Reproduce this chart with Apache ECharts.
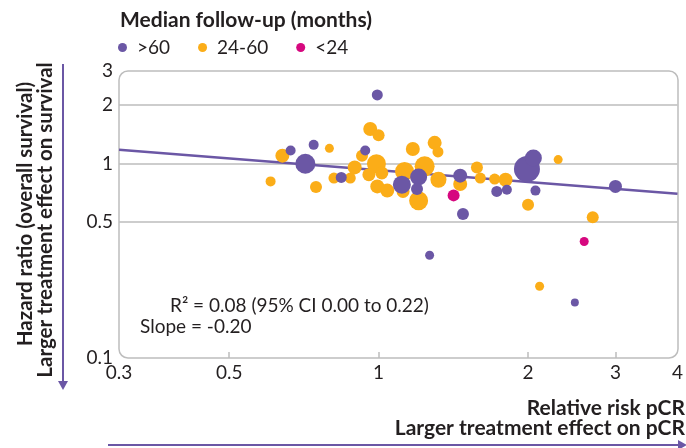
<!DOCTYPE html>
<html><head><meta charset="utf-8">
<script src="https://cdn.jsdelivr.net/npm/echarts@6/dist/echarts.min.js"></script>
<style>html,body{margin:0;padding:0;background:#fff}#c{width:686px;height:448px}</style>
</head><body><div id="c"></div>
<script>
// ---- data ----
// [relative risk pCR, hazard ratio OS, bubble weight]
const over60 = [
  [0.994,2.26,5.5],[0.665,1.17,5],[0.74,1.25,5],[0.712,1.00,10],[0.841,0.85,5.5],
  [0.94,1.17,5],[1.114,0.78,9],[1.204,0.854,8.5],[1.195,0.741,6],[1.46,0.868,7],
  [1.479,0.551,6],[1.73,0.72,5.5],[1.813,0.735,5],[1.99,0.939,13],[2.05,1.07,8.5],
  [2.07,0.727,5],[3.0,0.764,6.5],[1.267,0.338,4.5],[2.485,0.193,4]
];
const mid24to60 = [
  [0.962,1.51,7],[1.0,1.40,6],[0.64,1.10,7],[0.796,1.20,4.5],[0.606,0.811,5],
  [0.748,0.759,6],[0.813,0.844,5.5],[0.877,0.844,5.5],[0.926,1.10,6],[0.895,0.957,7],
  [0.99,1.00,9.5],[0.956,0.878,6.5],[1.015,0.896,6.5],[0.994,0.764,7],[1.041,0.727,7],
  [1.172,1.19,7],[1.297,1.28,7],[1.317,1.149,5.5],[1.128,0.913,9.5],[1.238,0.969,10],
  [1.204,0.645,9.5],[1.12,0.72,6.5],[1.32,0.827,8],[1.46,0.786,7],[1.578,0.957,6],
  [1.603,0.844,5.5],[1.713,0.834,5.5],[1.802,0.827,7],[2.0,0.615,6],[2.30,1.05,4.5],
  [2.70,0.53,6],[2.11,0.234,4.5]
];
const under24 = [[1.416,0.687,6],[2.595,0.398,4.5]];
const fitLine = [[0.3,1.18],[4,0.70]];
const seriesNames = ['>60','24-60','<24'];
const xTickLabels = [0.3,0.5,1,2,3,4];
const xTicks = [0.5,1,2,3];
const yTickLabels = [0.1,0.5,1,2,3];
const yGrid = [0.5,1,2];
const legendTitle = 'Median follow-up (months)';
const yTitle1 = 'Hazard ratio (overall survival)';
const yTitle2 = 'Larger treatment effect on survival';
const xTitle1 = 'Relative risk pCR';
const xTitle2 = 'Larger treatment effect on pCR';
const note1 = 'R\u00B2 = 0.08 (95% CI 0.00 to 0.22)';
const note2 = 'Slope = -0.20';

const PURPLE = '#6b57a5', ORANGE = '#fbad18', MAGENTA = '#d6087f', TXT = '#231f20', GRID = '#bdbdbd';
const FONT = 'Lato';
const BOLD = 'bold 20.5px ' + FONT;
const BOLDX = 'bold 21px ' + FONT;
const REG = 19;
const G = {left:119, top:71, right:8, bottom:90};
const fmt = v => String(+(+v).toPrecision(3));

const chart = echarts.init(document.getElementById('c'), null, {renderer:'canvas'});
chart.setOption({
  animation:false,
  textStyle:{fontFamily:FONT},
  title:{text:legendTitle,left:115,top:5,textStyle:{fontFamily:FONT,fontWeight:'bold',fontSize:21,color:TXT}},
  legend:{data:seriesNames,left:113,top:33,icon:'circle',itemWidth:9,itemHeight:9,itemGap:28,
    textStyle:{fontFamily:FONT,fontSize:REG,color:TXT,padding:[0,0,0,5]}},
  grid:{left:G.left,top:G.top,right:G.right,bottom:G.bottom},
  xAxis:{type:'log',logBase:10,min:0.3,max:4,
    axisLine:{show:false},
    axisTick:{show:true,inside:true,length:6,customValues:xTicks,lineStyle:{color:GRID,width:1.5}},
    axisLabel:{customValues:xTickLabels,formatter:fmt,fontFamily:FONT,fontSize:REG,color:TXT,margin:5},
    splitLine:{show:false}},
  yAxis:{type:'log',logBase:10,min:0.1,max:3,
    axisLine:{show:false},
    axisTick:{show:false,customValues:yGrid},
    axisLabel:{customValues:yTickLabels,formatter:fmt,fontFamily:FONT,fontSize:REG,color:TXT,margin:6},
    splitLine:{show:true,lineStyle:{color:GRID,width:1.5}}},
  graphic:[
    {type:'rect',z:-1,silent:true,shape:{x:119,y:71,width:559,height:287,r:9},style:{fill:'none',stroke:GRID,lineWidth:1.5}},
    {type:'text',x:25,y:214,rotation:Math.PI/2,style:{text:yTitle1,font:BOLD,fill:TXT,align:'center',verticalAlign:'middle'}},
    {type:'text',x:45,y:220,rotation:Math.PI/2,style:{text:yTitle2,font:BOLD,fill:TXT,align:'center',verticalAlign:'middle'}},
    {type:'line',shape:{x1:63,y1:64,x2:63,y2:383},style:{stroke:PURPLE,lineWidth:2}},
    {type:'polygon',shape:{points:[[58,381],[68,381],[63,390]]},style:{fill:PURPLE}},
    {type:'text',x:685,y:408,style:{text:xTitle1,font:BOLDX,fill:TXT,align:'right',verticalAlign:'middle'}},
    {type:'text',x:685,y:428,style:{text:xTitle2,font:BOLDX,fill:TXT,align:'right',verticalAlign:'middle'}},
    {type:'line',shape:{x1:108,y1:445,x2:680,y2:445},style:{stroke:PURPLE,lineWidth:2}},
    {type:'polygon',shape:{points:[[678,440],[678,450],[687,445]]},style:{fill:PURPLE}},
    {type:'text',x:170,y:306,style:{text:note1,font:REG+'px '+FONT,fill:TXT,align:'left',verticalAlign:'middle'}},
    {type:'text',x:140,y:327,style:{text:note2,font:REG+'px '+FONT,fill:TXT,align:'left',verticalAlign:'middle'}}
  ],
  series:[
    {type:'line',name:'fit',data:fitLine,symbol:'none',z:1,lineStyle:{color:PURPLE,width:2.5},silent:true},
    {type:'scatter',name:'24-60',data:mid24to60,z:2,symbolSize:d=>d[2]*2,itemStyle:{color:ORANGE,opacity:1}},
    {type:'scatter',name:'>60',data:over60,z:3,symbolSize:d=>d[2]*2,itemStyle:{color:PURPLE,opacity:1}},
    {type:'scatter',name:'<24',data:under24,z:4,symbolSize:d=>d[2]*2,itemStyle:{color:MAGENTA,opacity:1}}
  ]
});
</script></body></html>
